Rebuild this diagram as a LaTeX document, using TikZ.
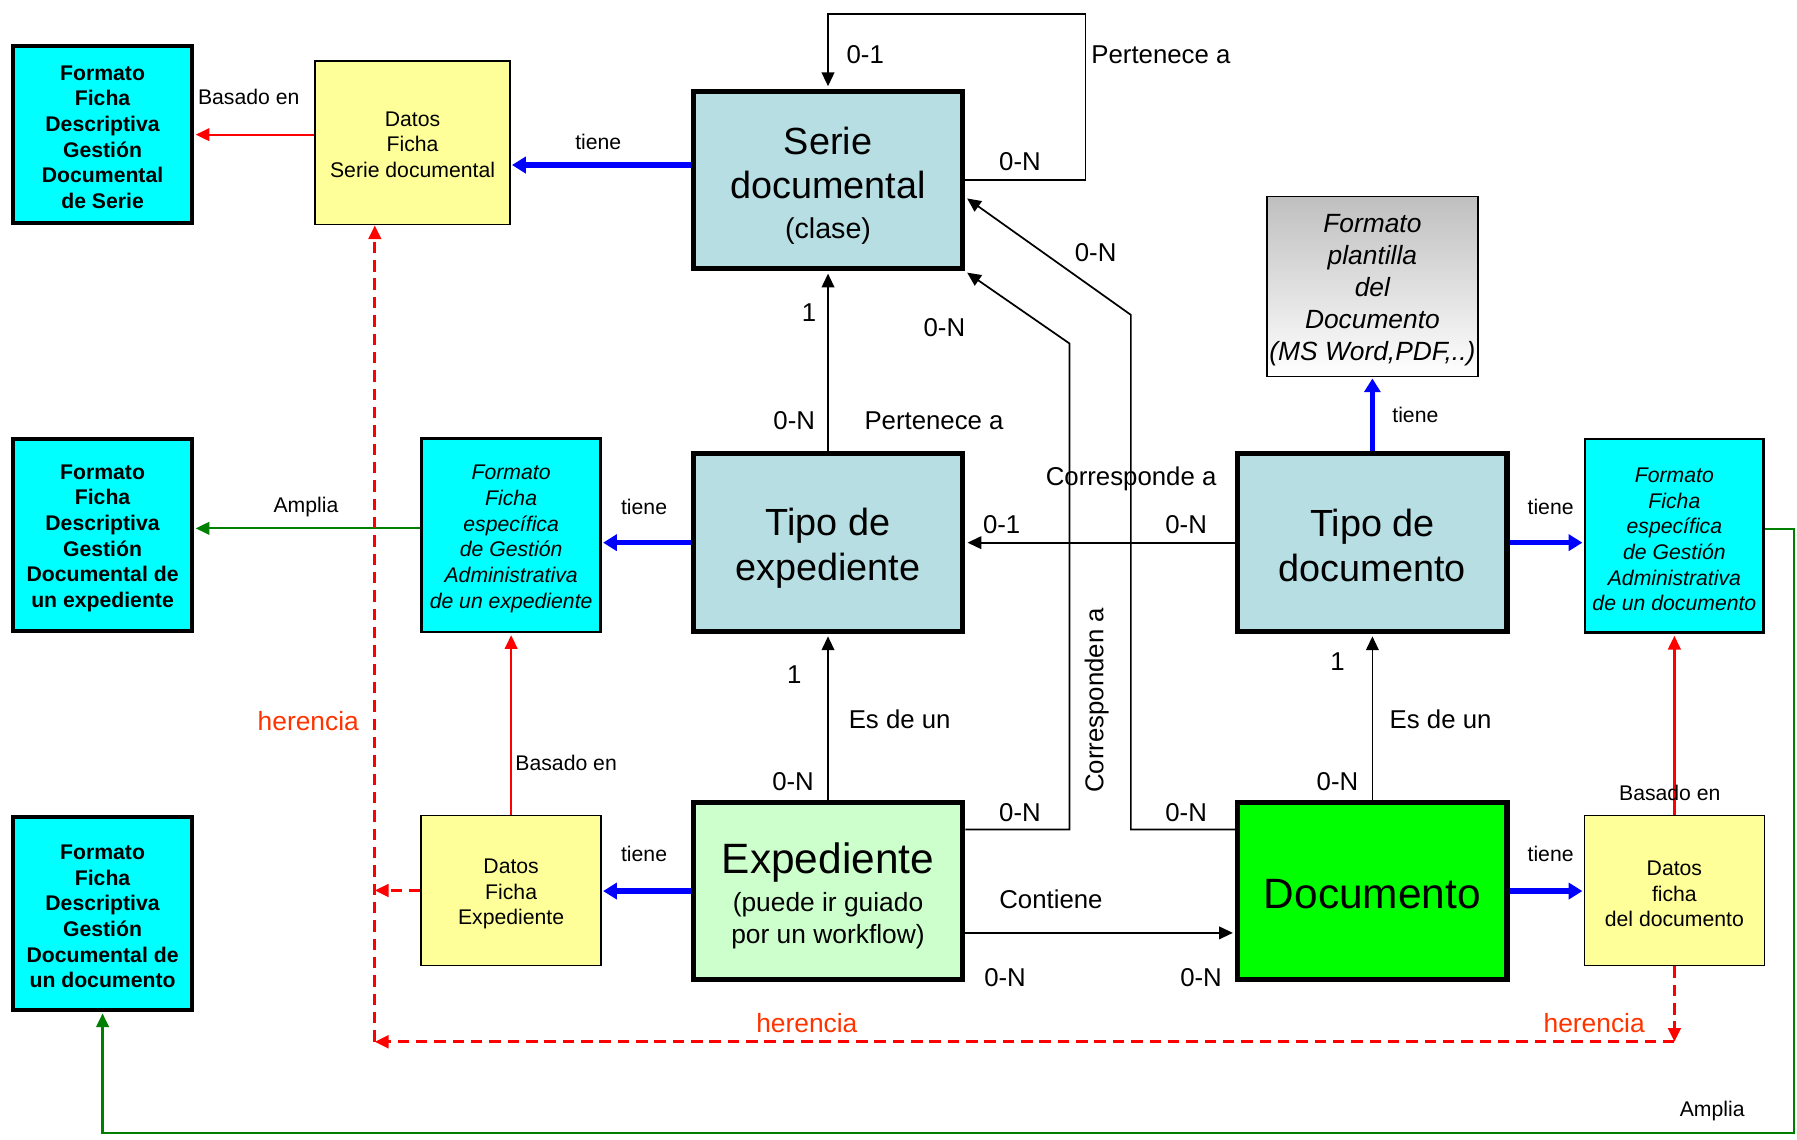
\documentclass[tikz,border=0pt]{standalone}
\usepackage{fontspec}
\setmainfont{Liberation Sans}
\usetikzlibrary{arrows.meta}
\usetikzlibrary{calc,backgrounds}

\definecolor{serblue}{RGB}{183,222,226}
\definecolor{ffcyan}{RGB}{0,255,255}
\definecolor{datyel}{RGB}{255,255,153}
\definecolor{expgreen}{RGB}{204,255,204}
\definecolor{docgreen}{RGB}{0,255,0}
\definecolor{amgreen}{RGB}{0,128,0}
\definecolor{herred}{RGB}{255,51,0}

\begin{document}
\begin{tikzpicture}[x=1pt, y=-1pt, >={Triangle[length=12pt, width=11pt]},
  every node/.style={inner sep=0pt, align=center},
  clsbox/.style={draw, line width=4.5pt, minimum width=235pt, minimum height=155pt, font=\fontsize{33}{39}\selectfont},
  ffbox/.style={draw, line width=3.5pt, fill=ffcyan, minimum width=156pt, font=\bfseries\fontsize{18.5}{22.4}\selectfont},
  fmtbox/.style={draw, line width=2.5pt, fill=ffcyan, minimum width=156pt, minimum height=169pt, font=\itshape\fontsize{18.5}{22.4}\selectfont},
  datbox/.style={draw, line width=1.5pt, fill=datyel, minimum width=157pt, minimum height=131pt, font=\fontsize{18.5}{22.4}\selectfont},
  rel/.style={line width=1.5pt, ->, shorten >=2pt},
  tiene/.style={blue, line width=4.5pt, ->, >={Triangle[length=12pt, width=14pt]}, shorten >=1pt},
  based/.style={red, line width=2pt, ->, shorten >=1.5pt},
  amplia/.style={amgreen, line width=2pt, ->, shorten >=1.5pt},
  her/.style={red, line width=2.5pt, dash pattern=on 10pt off 6pt, ->},
  lbl/.style={font=\fontsize{22.5}{27}\selectfont},
  sml/.style={font=\fontsize{18.5}{22}\selectfont},
  herlbl/.style={text=herred, font=\fontsize{23}{27}\selectfont}]
\useasboundingbox (0,0) rectangle (1568,994);

\node[clsbox, fill=serblue] (serie) at (722.5,157) {\rule{0pt}{34pt}Serie\\documental\\[-4pt]{\fontsize{25}{25}\selectfont(clase)}};
\node[clsbox, fill=serblue] (tipexp) at (722.5,473.5) {\rule{0pt}{34pt}Tipo de\\expediente};
\node[clsbox, fill=serblue] (tipdoc) at (1197.5,473.5) {\rule{0pt}{29pt}Tipo de\\documento};
\node[clsbox, fill=expgreen, font=\fontsize{23}{28}\selectfont] (exped) at (722.5,777.5) {\rule{0pt}{35.5pt}{\fontsize{37}{37}\selectfont Expediente}\\[5pt](puede ir guiado\\por un workflow)};
\node[clsbox, fill=docgreen, font=\fontsize{37}{40}\selectfont] (docu) at (1197.5,777.5) {\rule{0pt}{31pt}Documento};

\node[ffbox, minimum height=155pt] (ffserie) at (89.5,117.5) {\rule{0pt}{17pt}Formato\\Ficha\\Descriptiva\\Gestión\\Documental\\de Serie};
\node[ffbox, minimum height=168pt] (ffexp) at (89.5,467) {\rule{0pt}{18pt}Formato\\Ficha\\Descriptiva\\Gestión\\Documental de\\un expediente};
\node[ffbox, minimum height=168pt] (ffdoc) at (89.5,797) {\rule{0pt}{18pt}Formato\\Ficha\\Descriptiva\\Gestión\\Documental de\\un documento};

\node[fmtbox] (fmtexp) at (446,467) {\rule{0pt}{19pt}Formato\\Ficha\\específica\\de Gestión\\Administrativa\\de un expediente};
\node[fmtbox] (fmtdoc) at (1461,467.5) {\rule{0pt}{19pt}Formato\\Ficha\\específica\\de Gestión\\Administrativa\\de un documento};

\node[datbox, minimum width=170pt, minimum height=143pt] (datserie) at (360,124.5) {\rule{0pt}{16pt}Datos\\Ficha\\Serie documental};
\node[datbox] (datexp) at (446,777) {\rule{0pt}{19pt}Datos\\Ficha\\Expediente};
\node[datbox] (datdoc) at (1461,777) {\rule{0pt}{19pt}Datos\\ficha\\del documento};

\node[draw, line width=1.5pt, top color=black!25, bottom color=white, minimum width=184pt, minimum height=157pt,
  font=\itshape\fontsize{23}{28}\selectfont] (plant) at (1197.5,250) {\rule{0pt}{22pt}Formato\\plantilla\\del\\Documento\\(MS Word,PDF,..)};

\coordinate (herR) at (1461,909);
\coordinate (herL) at (327,909);

\begin{scope}[on background layer]
\draw[based] (datserie.west |- ffserie) -- (ffserie.east);
\draw[tiene] ([yshift=13pt]serie.west) -- ([yshift=13pt]serie.west -| datserie.east);
\draw[rel] (serie.east) -- ++(105,0) |- ([yshift=65pt]serie.north) -- (serie.north);
\draw[rel] (tipexp.north) -- (serie.south);
\draw[rel] ([yshift=-26pt]exped.north east) -- ++(91,0) -- ++(0,-424) -- (serie.south east);
\draw[rel] ([yshift=-26pt]docu.north west) -- ++(-91,0) -- ++(0,-449) -- ([yshift=-15pt]serie.east);
\draw[rel] (tipdoc.west) -- (tipexp.east);
\draw[rel] (exped.north) -- (tipexp.south);
\draw[rel] (docu.north) -- (tipdoc.south);
\draw[rel] ([yshift=-36.5pt]exped.east) -- ([yshift=-36.5pt]docu.west);
\draw[tiene] (tipdoc.north) -- (plant.south);
\draw[tiene] (tipexp.west) -- (tipexp.west -| fmtexp.east);
\draw[tiene] (tipdoc.east) -- (tipdoc.east -| fmtdoc.west);
\draw[tiene] (exped.west) -- (exped.west -| datexp.east);
\draw[tiene] (docu.east) -- (docu.east -| datdoc.west);
\draw[amplia] ([yshift=6pt]fmtexp.west) -- ([yshift=6pt]fmtexp.west -| ffexp.east);
\draw[amplia] ([yshift=6pt]fmtdoc.east) -- ++(25,0) |- ([yshift=-106pt]ffdoc.south) -- (ffdoc.south);
\draw[based] (datexp.north) -- (fmtexp.south);
\draw[based] (datdoc.north) -- (fmtdoc.south);
\draw[her] (datdoc.south) -- (herR);
\draw[her] (herR) -- (herL);
\draw[her] (herL) -- (herL |- datserie.south);
\draw[her] (datexp.west) -- (datexp.west -| herL);
\end{scope}

\foreach \x/\y/\t [count=\i] in {755/48/0-1, 1013/48/Pertenece a, 890/141/0-N, 956/220/0-N, 706/273/1,
  824/286/0-N, 693/367/0-N, 815/367/Pertenece a, 987/418/Corresponde a, 874/458/0-1, 1035/458/0-N,
  693/589/1, 1167/577/1, 785/628/Es de un, 1257/628/Es de un, 692/682/0-N, 1167/682/0-N,
  890/709/0-N, 1035/709/0-N, 917/785/Contiene, 877/853/0-N, 1048/853/0-N}
  \node[lbl] (r\i) at (\x,\y) {\t};
\node[lbl, rotate=90] (corr) at (957,611) {Corresponden a};

\foreach \x/\y/\t [count=\i] in {217/85/Basado en, 522/124/tiene, 1235/362/tiene, 267/442/Amplia,
  562/442/tiene, 1353/442/tiene, 494/666/Basado en, 1457/692/Basado en, 562/745/tiene,
  1353/745/tiene, 1494/969/Amplia}
  \node[sml] (s\i) at (\x,\y) {\t};

\foreach \x/\y [count=\i] in {269/629, 704/893, 1391/893}
  \node[herlbl] (h\i) at (\x,\y) {herencia};
\end{tikzpicture}
\end{document}
